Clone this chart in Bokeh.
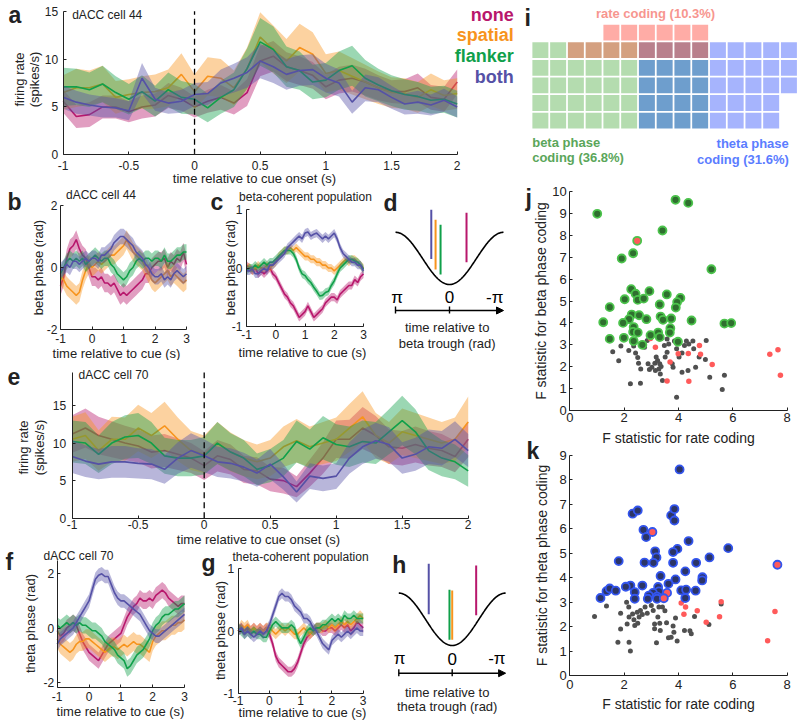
import numpy as np
from bokeh.plotting import figure
from bokeh.layouts import row, column
from bokeh.models import Range1d, FixedTicker, PrintfTickFormatter, Arrow, NormalHead
from bokeh.embed import file_html
from bokeh.resources import INLINE
from bokeh.core.properties import value

FONT = "Liberation Sans"
INK = "#222222"
C_NONE, C_SPAT, C_FLANK, C_BOTH = "#b8176c", "#f7941d", "#10a04a", "#5551a6"
COLORS = [C_NONE, C_SPAT, C_FLANK, C_BOTH]
CONDS = ["none", "spatial", "flanker", "both"]
CUE_ONSET = 0.0
LETTER = "23px"

# ---------------- data ----------------
t_fr = np.round(np.arange(-1.0, 2.0001, 0.1), 2)   # panels a, e (s)
t_ph = np.round(np.arange(-1.0, 3.0001, 0.1), 2)   # panels b, c, f, g (s)

# panel a: dACC cell 44 firing rate (spikes/s)
a_none = [5.6, 4.0, 4.2, 5.0, 5.0, 4.5, 5.0, 5.2, 6.2, 5.8, 5.0, 5.6, 6.0, 5.4, 6.5, 9.8, 10.3, 9.2, 8.8, 8.3, 7.1, 7.8, 8.0, 7.6, 7.0, 6.6, 6.6, 7.0, 6.0, 5.8, 7.6]
a_spat = [6.5, 7.0, 7.0, 7.4, 6.0, 6.3, 6.5, 6.6, 7.0, 8.4, 6.6, 8.2, 8.0, 7.0, 9.0, 12.3, 11.0, 9.8, 11.2, 10.5, 8.5, 8.8, 8.2, 7.6, 7.0, 6.5, 6.4, 6.0, 6.8, 6.2, 6.4]
a_flank = [7.1, 7.1, 6.8, 7.4, 6.5, 5.8, 6.6, 5.6, 6.8, 6.0, 5.8, 4.9, 6.0, 6.8, 9.0, 11.8, 11.0, 9.2, 8.8, 7.6, 7.8, 8.8, 9.3, 8.0, 7.3, 6.7, 6.3, 6.1, 5.7, 5.8, 5.3]
a_both = [6.0, 5.5, 5.2, 5.0, 4.9, 4.6, 8.0, 5.8, 5.4, 5.6, 6.3, 6.4, 7.5, 8.0, 8.6, 9.8, 9.2, 8.4, 8.8, 8.9, 8.0, 7.5, 5.5, 7.0, 6.8, 6.0, 5.3, 5.5, 5.2, 5.7, 5.0]
a_none_hw = [1.2, 1.2, 1.3, 1.2, 1.2, 1.1, 1.2, 1.2, 1.3, 1.2, 1.1, 1.2, 1.3, 1.2, 1.4, 1.6, 1.6, 1.5, 1.5, 1.4, 1.3, 1.4, 1.4, 1.4, 1.3, 1.2, 1.3, 1.5, 1.3, 1.3, 1.3]
a_spat_hw = [1.8, 2.0, 1.8, 1.9, 1.7, 1.6, 1.7, 1.8, 1.9, 2.2, 1.8, 2.0, 2.0, 1.8, 2.2, 2.6, 2.5, 2.3, 2.5, 2.3, 2.0, 2.0, 1.9, 1.8, 1.7, 1.6, 1.6, 1.6, 1.7, 1.6, 1.6]
a_flank_hw = [2.0, 1.9, 1.8, 1.9, 1.7, 1.6, 1.7, 1.6, 1.8, 1.7, 1.6, 1.5, 1.7, 1.8, 2.1, 2.5, 2.4, 2.1, 2.0, 1.8, 1.8, 2.0, 2.1, 1.9, 1.7, 1.6, 1.6, 1.5, 1.4, 1.4, 1.4]
a_both_hw = [1.2, 1.2, 1.1, 1.1, 1.0, 1.0, 1.6, 1.2, 1.1, 1.2, 1.2, 1.2, 1.4, 1.5, 1.6, 1.8, 1.7, 1.6, 1.6, 1.6, 1.5, 1.4, 1.2, 1.4, 1.3, 1.2, 1.1, 1.2, 1.1, 1.2, 1.1]

# panel e: dACC cell 70 firing rate (spikes/s)
e_none = [11.2, 12.0, 11.0, 10.5, 10.0, 9.6, 8.8, 9.0, 8.5, 8.0, 7.0, 8.3, 7.8, 6.5, 6.3, 5.2, 5.0, 4.2, 6.0, 8.0, 10.5, 10.5, 12.0, 11.0, 9.5, 9.3, 9.8, 9.3, 9.0, 8.2, 10.5]
e_spat = [10.5, 11.0, 9.0, 10.5, 10.5, 12.0, 11.0, 12.3, 10.5, 9.0, 8.5, 10.0, 8.8, 8.0, 7.5, 8.0, 9.5, 10.3, 9.5, 10.0, 10.5, 12.0, 13.5, 11.0, 10.0, 11.5, 11.0, 10.5, 10.0, 10.5, 12.8]
e_flank = [10.2, 10.0, 8.5, 10.0, 10.8, 11.0, 10.0, 8.3, 8.0, 8.0, 8.3, 10.0, 8.8, 8.0, 6.5, 7.0, 8.0, 10.2, 9.2, 10.7, 9.8, 9.5, 10.2, 10.0, 11.5, 13.0, 11.5, 9.0, 8.0, 7.5, 6.3]
e_both = [8.2, 7.6, 7.2, 7.5, 7.5, 7.3, 7.2, 6.5, 8.0, 9.0, 8.3, 7.5, 7.3, 6.8, 6.0, 7.2, 5.5, 3.5, 5.6, 5.3, 5.6, 8.0, 9.5, 10.3, 9.8, 8.0, 8.5, 9.5, 9.3, 10.5, 9.0]
e_none_hw = [2.5, 2.6, 2.5, 2.4, 2.3, 2.2, 2.2, 2.2, 2.1, 2.0, 1.9, 2.1, 2.0, 1.8, 1.8, 1.6, 1.7, 1.4, 1.8, 2.1, 2.5, 2.6, 2.8, 2.6, 2.3, 2.3, 2.4, 2.3, 2.2, 2.1, 2.4]
e_spat_hw = [3.0, 3.1, 2.7, 3.0, 2.9, 3.1, 3.0, 3.2, 2.9, 2.6, 2.5, 2.8, 2.6, 2.4, 2.3, 2.4, 2.7, 2.9, 2.7, 2.8, 2.9, 3.2, 3.4, 3.0, 2.8, 3.1, 3.0, 2.9, 2.8, 2.9, 3.4]
e_flank_hw = [2.8, 2.8, 2.5, 2.8, 2.9, 3.0, 2.8, 2.4, 2.4, 2.4, 2.5, 2.8, 2.5, 2.4, 2.1, 2.2, 2.4, 2.8, 2.6, 2.9, 2.7, 2.7, 2.8, 2.8, 3.0, 3.3, 3.0, 2.6, 2.4, 2.3, 2.1]
e_both_hw = [2.2, 2.1, 2.0, 2.1, 2.1, 2.0, 2.0, 1.9, 2.1, 2.3, 2.2, 2.0, 2.0, 1.9, 1.8, 2.0, 1.7, 1.4, 1.7, 1.7, 1.7, 2.1, 2.3, 2.4, 2.3, 2.1, 2.2, 2.3, 2.3, 2.4, 2.2]

# panel b: dACC cell 44 beta phase (rad)
b_none = [-0.6, -0.3, 0.3, 0.6, 0.7, 0.9, 0.6, 0.4, 0.3, 0.0, -0.3, -0.3, -0.4, -0.3, -0.5, -0.5, -0.6, -0.5, -0.7, -0.9, -0.8, -0.9, -0.8, -0.7, -0.6, -0.5, -0.4, -0.2, -0.2, 0.0, 0.1, 0.2, 0.2, 0.3, 0.0, 0.2, 0.1, 0.3, 0.2, 0.5, 0.1]
b_spat = [-0.3, -0.4, -0.6, -0.7, -0.8, -0.9, -0.8, -0.4, -0.1, 0.1, 0.0, 0.1, 0.2, 0.1, 0.2, 0.3, 0.4, 0.4, 0.5, 0.6, 0.7, 0.9, 0.7, 0.5, 0.4, 0.3, 0.2, 0.0, -0.2, -0.4, -0.5, -0.4, -0.3, -0.2, -0.1, -0.3, -0.2, -0.3, -0.4, -0.5, -0.4]
b_flank = [-0.2, 0.0, 0.2, 0.3, 0.2, 0.3, 0.2, 0.3, 0.1, 0.2, 0.3, 0.4, 0.3, 0.2, 0.3, 0.3, 0.1, 0.0, -0.2, -0.3, -0.4, -0.3, -0.1, 0.0, 0.2, 0.3, 0.2, 0.3, 0.3, 0.2, 0.3, 0.3, 0.2, 0.4, 0.2, 0.2, 0.3, 0.4, 0.4, 0.5, 0.5]
b_both = [-0.1, 0.0, 0.1, 0.0, 0.2, 0.2, 0.1, 0.2, 0.3, 0.2, 0.3, 0.3, 0.2, 0.4, 0.4, 0.5, 0.6, 0.8, 0.9, 1.0, 1.0, 0.9, 0.8, 0.7, 0.5, 0.4, 0.3, 0.1, 0.0, -0.2, -0.3, -0.3, -0.2, -0.4, -0.3, -0.4, -0.2, -0.1, -0.2, -0.3, -0.2]
b_hw = [0.3, 0.3, 0.25, 0.25]

# panel c: beta-coherent population beta phase (rad)
c_none = [0.05, 0.0, -0.05, 0.0, -0.1, -0.05, -0.1, -0.05, 0.0, -0.1, -0.15, -0.25, -0.35, -0.45, -0.5, -0.6, -0.65, -0.75, -0.85, -0.8, -0.75, -0.65, -0.75, -0.85, -0.8, -0.75, -0.7, -0.6, -0.55, -0.5, -0.5, -0.55, -0.45, -0.4, -0.35, -0.3, -0.3, -0.2, -0.25, -0.15, -0.1]
c_spat = [0.0, 0.02, -0.05, 0.0, 0.05, 0.0, 0.0, 0.05, 0.0, 0.05, 0.1, 0.2, 0.25, 0.3, 0.3, 0.35, 0.3, 0.35, 0.3, 0.25, 0.2, 0.2, 0.15, 0.15, 0.1, 0.1, 0.05, 0.05, 0.0, 0.0, -0.05, 0.0, 0.05, 0.1, 0.15, 0.1, 0.15, 0.15, 0.1, 0.05, 0.0]
c_flank = [-0.05, 0.0, 0.0, 0.05, 0.0, 0.05, 0.1, 0.05, 0.1, 0.1, 0.15, 0.2, 0.25, 0.3, 0.3, 0.3, 0.25, 0.15, 0.0, -0.1, -0.13, -0.2, -0.25, -0.33, -0.4, -0.48, -0.47, -0.42, -0.4, -0.3, -0.22, -0.1, 0.0, 0.05, 0.1, 0.15, 0.15, 0.12, 0.1, 0.05, -0.02]
c_both = [-0.05, -0.05, -0.02, -0.1, -0.1, -0.05, 0.0, -0.05, 0.05, 0.05, 0.1, 0.15, 0.2, 0.25, 0.35, 0.4, 0.45, 0.5, 0.55, 0.5, 0.6, 0.62, 0.55, 0.58, 0.6, 0.55, 0.5, 0.55, 0.5, 0.55, 0.6, 0.5, 0.35, 0.25, 0.2, 0.15, 0.1, 0.1, 0.05, 0.05, -0.05]
c_hw = [0.07, 0.07, 0.07, 0.07]

# panel f: dACC cell 70 theta phase (rad)
f_none = [-0.1, -0.3, -0.2, 0.0, 0.1, 0.2, 0.1, -0.2, -0.5, -0.7, -0.9, -1.0, -1.1, -1.2, -1.0, -0.8, -0.6, -0.5, -0.4, -0.3, -0.2, 0.1, 0.4, 0.6, 0.8, 0.9, 1.1, 1.0, 1.0, 1.1, 1.0, 1.2, 1.3, 1.4, 1.3, 1.1, 1.0, 0.9, 0.8, 0.9, 0.9]
f_spat = [-0.4, -0.6, -0.7, -0.8, -0.9, -0.8, -0.6, -0.5, -0.5, -0.4, -0.4, -0.5, -0.6, -0.7, -0.8, -0.9, -0.8, -0.7, -0.7, -0.8, -0.7, -0.6, -0.7, -0.6, -0.5, -0.6, -0.6, -0.7, -0.8, -0.9, -0.5, -0.3, -0.2, -0.1, -0.1, 0.0, 0.1, 0.1, 0.2, 0.2, 0.3]
f_flank = [0.1, 0.0, 0.1, 0.2, 0.1, 0.2, 0.1, 0.2, 0.1, 0.1, 0.0, -0.1, -0.1, -0.2, -0.3, -0.5, -0.6, -0.7, -0.8, -1.0, -1.1, -1.2, -1.5, -1.4, -1.2, -1.0, -0.9, -0.8, -0.6, -0.4, -0.1, 0.1, 0.2, 0.4, 0.5, 0.5, 0.6, 0.7, 0.7, 0.8, 0.9]
f_both = [-0.6, -0.4, -0.3, -0.2, -0.1, 0.0, 0.2, 0.4, 0.6, 0.8, 1.0, 1.4, 1.8, 1.95, 2.0, 1.9, 1.9, 1.6, 1.3, 1.1, 1.0, 1.0, 0.9, 0.8, 0.7, 0.6, 0.5, 0.3, 0.1, -0.1, -0.2, -0.3, -0.3, -0.2, -0.1, 0.0, 0.1, 0.2, 0.3, 0.4, 0.5]
f_hw = [0.3, 0.35, 0.3, 0.25]

# panel g: theta-coherent population theta phase (rad)
g_none = [0.0, 0.05, 0.0, 0.05, 0.0, 0.05, 0.0, 0.05, 0.0, 0.05, -0.05, -0.2, -0.4, -0.5, -0.55, -0.6, -0.65, -0.65, -0.6, -0.5, -0.35, -0.2, -0.1, -0.05, 0.0, 0.05, 0.05, 0.0, 0.0, 0.05, 0.05, 0.0, 0.05, 0.1, 0.05, 0.1, 0.0, 0.05, 0.15, 0.1, 0.05]
g_spat = [0.0, 0.1, 0.05, 0.1, 0.0, 0.05, 0.0, 0.05, 0.0, 0.05, 0.05, 0.0, -0.05, 0.0, 0.05, 0.0, 0.05, 0.0, -0.05, -0.05, 0.0, 0.05, 0.0, -0.05, 0.0, 0.05, 0.05, 0.05, 0.1, 0.05, 0.1, 0.05, 0.1, 0.15, 0.1, 0.15, 0.1, 0.15, 0.2, 0.25, 0.2]
g_flank = [0.05, 0.0, -0.05, 0.0, -0.05, 0.0, -0.05, -0.05, -0.1, -0.1, 0.0, 0.1, 0.15, 0.1, 0.05, 0.05, 0.05, 0.1, 0.05, -0.1, -0.2, -0.1, 0.0, 0.05, 0.0, 0.05, 0.05, 0.1, 0.1, 0.15, 0.2, 0.15, 0.2, 0.15, 0.25, 0.2, 0.2, 0.25, 0.2, 0.2, 0.2]
g_both = [0.0, 0.05, -0.05, 0.0, -0.05, -0.1, -0.05, 0.0, -0.05, 0.0, 0.1, 0.25, 0.4, 0.55, 0.6, 0.55, 0.55, 0.5, 0.4, 0.35, 0.3, 0.2, 0.2, 0.15, 0.05, 0.0, -0.1, -0.2, -0.25, -0.3, -0.15, -0.1, -0.05, -0.1, -0.05, 0.0, -0.05, 0.0, 0.05, 0.0, 0.0]
g_hw = [0.08, 0.08, 0.08, 0.08]

# panels d, h: preferred phase markers (rad) and their vertical extent (units of the cosine)
d_phase = [-0.99, 0.81, 0.52, 1.06]
d_top = [1.75, 1.48, 1.29, 1.86]
d_bot = [-0.15, -0.43, -0.62, -0.02]
h_phase = [-1.41, 0.0, 0.16, 1.38]
h_top = [2.05, 1.10, 1.13, 2.12]
h_bot = [0.15, -0.78, -0.78, 0.19]

# panel i: waffle of coding cells (R rate, B beta, T theta, X beta+rate, Y all three, Z beta+theta)
waffle_map = [
    "....RRRRRR.....",
    "BBXXXXYYYYTTTTT",
    "BBBBBBZZZZTTTTT",
    "BBBBBBZZZZTTTTT",
    "BBBBBBZZZZTTTT.",
    "BBBBBBZZZZTTTT.",
]
waffle_colors = {"R": "#ffaca6", "B": "#b4dcaf", "X": "#d4a080", "Y": "#b9808c",
                 "Z": "#6e9ecd", "T": "#a6b4fd"}

# panel j: F statistics (rate vs beta phase)
j_grey = [(1.58, 2.68), (1.88, 2.94), (1.80, 2.27), (2.23, 1.22), (2.60, 1.25), (2.17, 2.74), (2.35, 2.94), (2.42, 2.62), (2.50, 2.42), (2.53, 2.16), (2.61, 1.90), (2.75, 2.89), (2.85, 3.20), (2.88, 2.13), (2.93, 1.87), (3.02, 1.98), (3.13, 2.16), (3.18, 2.44), (3.23, 2.28), (3.31, 2.13), (3.36, 2.01), (3.15, 1.83), (3.33, 1.67), (3.41, 1.37), (3.48, 2.97), (3.58, 2.66), (3.64, 3.04), (3.77, 2.13), (3.80, 1.98), (3.85, 3.17), (3.93, 2.82), (4.02, 2.44), (4.13, 2.62), (4.22, 2.97), (4.29, 3.17), (4.38, 3.04), (4.53, 3.17), (4.56, 2.82), (4.13, 1.75), (4.35, 1.83), (4.63, 1.98), (4.76, 2.44), (4.99, 2.33), (5.02, 3.20), (5.15, 1.52), (5.69, 1.61), (5.61, 0.96), (3.93, 0.61), (3.28, 1.90), (3.51, 2.44), (3.58, 3.27)]
j_rate = [(3.15, 2.89), (4.77, 2.97), (3.99, 2.59), (4.36, 2.60), (4.81, 2.57), (3.69, 2.21), (5.24, 2.10), (3.58, 1.35), (4.38, 1.34), (7.36, 2.57), (7.66, 2.77), (7.75, 1.61), (2.97, 3.29)]
j_beta = [(1.01, 8.98), (3.89, 9.62), (4.36, 9.48), (3.41, 8.22), (2.33, 7.18), (1.91, 6.94), (5.21, 6.45), (2.26, 5.54), (2.93, 5.45), (2.42, 5.33), (3.57, 5.30), (2.02, 5.08), (2.50, 5.05), (2.72, 5.11), (4.07, 5.14), (3.31, 4.84), (1.47, 4.72), (3.95, 4.95), (3.90, 4.70), (2.28, 4.38), (2.55, 4.35), (3.34, 4.29), (2.18, 4.17), (2.82, 4.17), (3.43, 4.14), (3.73, 4.20), (1.23, 4.03), (1.96, 4.00), (4.48, 4.11), (5.69, 3.97), (5.94, 3.99), (2.35, 3.81), (3.70, 3.76), (2.33, 3.59), (2.50, 3.56), (3.25, 3.56), (3.68, 3.56), (1.47, 3.27), (1.99, 3.32), (2.97, 3.44), (3.31, 3.35), (2.35, 3.17), (3.98, 3.14), (2.67, 3.00)]
j_beta_rate = [(2.48, 7.75)]

# panel k: F statistics (rate vs theta phase)
k_grey = [(0.91, 2.41), (1.35, 2.84), (1.87, 2.55), (1.87, 1.90), (1.77, 1.36), (2.18, 1.36), (2.23, 1.00), (2.09, 3.00), (2.17, 2.80), (2.18, 2.39), (2.11, 2.11), (2.31, 2.52), (2.36, 2.28), (2.39, 2.05), (2.48, 2.59), (2.55, 2.39), (2.50, 2.14), (2.60, 2.66), (2.67, 2.50), (2.77, 2.80), (2.85, 2.55), (3.00, 2.86), (3.07, 2.66), (3.12, 2.11), (3.12, 1.91), (3.19, 1.34), (3.24, 2.39), (3.28, 2.80), (3.31, 2.14), (3.33, 1.84), (3.41, 2.80), (3.50, 2.65), (3.56, 2.16), (3.63, 1.54), (3.73, 1.56), (3.83, 1.77), (3.89, 2.35), (3.95, 1.41), (3.80, 2.02), (4.22, 1.84), (4.42, 1.83), (4.47, 1.71), (4.59, 2.41), (5.12, 2.09), (5.57, 2.93), (3.30, 3.14)]
k_rate = [(4.10, 2.97), (4.26, 3.10), (4.26, 2.80), (4.20, 2.51), (4.69, 2.65), (5.02, 2.18), (5.51, 2.40), (5.57, 3.02), (7.55, 2.62), (7.28, 1.42)]
k_theta = [(4.04, 8.43), (2.31, 6.62), (2.50, 6.75), (3.73, 6.55), (3.85, 6.81), (3.85, 6.34), (2.71, 5.96), (2.81, 5.66), (3.14, 5.08), (3.96, 5.18), (4.37, 5.50), (5.83, 5.21), (3.80, 5.05), (3.19, 4.83), (5.14, 4.83), (1.80, 4.68), (2.75, 4.62), (3.08, 4.61), (3.80, 4.61), (4.65, 4.61), (4.25, 4.26), (3.34, 4.07), (4.88, 4.02), (4.87, 3.89), (3.89, 3.93), (2.23, 3.68), (2.06, 3.63), (2.67, 3.68), (3.63, 3.75), (3.25, 3.62), (4.10, 3.48), (4.28, 3.51), (4.63, 3.47), (1.35, 3.45), (1.47, 3.56), (1.69, 3.47), (3.28, 3.44), (2.39, 3.41), (3.06, 3.38), (2.91, 3.27), (3.21, 3.23), (1.13, 3.17), (2.39, 3.14), (2.87, 3.14), (3.21, 3.14), (4.25, 3.17)]
k_theta_rate = [(3.04, 5.87), (7.64, 4.53), (3.58, 3.38), (3.46, 3.16)]


# ---------------- helpers ----------------
class Panel:
    """A figure whose frame is its whole canvas; page pixel positions map to data."""

    def __init__(self, box, xmap, ymap, axes=True):
        L, T, R, B = box
        (xa, pxa), (xb, pxb) = xmap
        (ya, pya), (yb, pyb) = ymap
        kx = (xb - xa) / (pxb - pxa)
        ky = (yb - ya) / (pyb - pya)
        self.fx = lambda X: xa + (X - pxa) * kx
        self.fy = lambda Y: ya + (Y - pya) * ky
        kw = {} if axes else dict(x_axis_type=None, y_axis_type=None)
        self.p = figure(width=R - L, height=B - T,
                        x_range=Range1d(self.fx(L), self.fx(R)),
                        y_range=Range1d(self.fy(B), self.fy(T)),
                        output_backend="svg", toolbar_location=None,
                        min_border=0, min_border_left=0, min_border_right=0,
                        min_border_top=0, min_border_bottom=0, **kw)
        self.p.grid.visible = False
        self.p.outline_line_color = None
        self.p.background_fill_color = "white"

    def axes(self, xbounds, ybounds, xticks, yticks, fs="12px", xs=4, ys=4):
        xa, ya = self.p.xaxis[0], self.p.yaxis[0]
        xa.fixed_location = ybounds[0]
        ya.fixed_location = xbounds[0]
        xa.bounds = tuple(xbounds)
        ya.bounds = tuple(ybounds)
        for ax, ticks, s in ((xa, xticks, xs), (ya, yticks, ys)):
            ax.ticker = FixedTicker(ticks=ticks)
            ax.formatter = PrintfTickFormatter(format="%g")
            ax.axis_line_color = INK
            ax.axis_line_width = 1
            ax.major_tick_line_color = INK
            ax.major_tick_in = 3
            ax.major_tick_out = 0
            ax.minor_tick_line_color = None
            ax.major_label_text_font = FONT
            ax.major_label_text_font_size = fs
            ax.major_label_text_color = INK
            ax.major_label_standoff = s

    def text(self, X, Y, s, size="12px", color=INK, bold=False, align="left", angle=0.0):
        self.p.text(x=[self.fx(X)], y=[self.fy(Y)], text=[s], angle=angle,
                    text_align=align, text_baseline="middle", text_font=value(FONT),
                    text_font_size=size, text_font_style="bold" if bold else "normal",
                    text_color=color)


def draw_traces(p, t, means, hws, alpha=0.42, lw=1.6):
    for m, hw, c in zip(means, hws, COLORS):
        m = np.asarray(m, dtype=float)
        hw = np.asarray(hw, dtype=float) if np.ndim(hw) else np.full(len(m), hw)
        p.varea(x=t, y1=m - hw, y2=m + hw, fill_color=c, fill_alpha=alpha)
        p.line(t, m, line_color=c, line_width=lw)


def cue_line(p, y0, y1):
    p.segment(x0=[CUE_ONSET], y0=[y0], x1=[CUE_ONSET], y1=[y1], line_color="black",
              line_width=1.3, line_dash="6 4")


ROT = np.pi / 2

# ---------------- panel a ----------------
A = Panel((0, 0, 520, 187), ((-1, 62.7), (2, 456.7)), ((0, 154.3), (15, 10.7)))
A.axes((-1, 2), (0, 15), [-1, -0.5, 0, 0.5, 1, 1.5, 2], [0, 5, 10, 15], xs=6, ys=5)
draw_traces(A.p, t_fr, [a_none, a_spat, a_flank, a_both],
            [a_none_hw, a_spat_hw, a_flank_hw, a_both_hw])
cue_line(A.p, 0, 15)
A.text(71.7, 14, "dACC cell 44")
A.text(8, 14, "a", size=LETTER, bold=True)
for name, c, yy in zip(CONDS, COLORS, [14, 34.5, 55, 76]):
    A.text(513.3, yy, name, size="18px", color=c, bold=True, align="right")
A.text(254, 177.5, "time relative to cue onset (s)", size="13px", align="center")
A.text(19, 79, "firing rate", size="13px", align="center", angle=ROT)
A.text(34, 79, "(spikes/s)", size="13px", align="center", angle=ROT)

# ---------------- panel b ----------------
B = Panel((0, 187, 205, 360), ((-1, 60), (3, 186)), ((-2, 329), (2, 205)))
B.axes((-1, 3), (-2, 2), [-1, 0, 1, 2, 3], [-2, 0, 2], xs=4, ys=3)
draw_traces(B.p, t_ph, [b_none, b_spat, b_flank, b_both], b_hw)
B.text(100.5, 194.5, "dACC cell 44", align="center")
B.text(7, 201, "b", size=LETTER, bold=True)
B.text(116, 352.5, "time relative to cue (s)", size="13px", align="center")
B.text(37.5, 267, "beta phase (rad)", size="13px", align="center", angle=ROT)

# ---------------- panel c ----------------
C = Panel((205, 187, 380, 360), ((-1, 246), (3, 363)), ((-1, 325.7), (1, 209.3)))
C.axes((-1, 3), (-1, 1), [-1, 0, 1, 2, 3], [-1, 0, 1], xs=4, ys=4)
draw_traces(C.p, t_ph, [c_none, c_spat, c_flank, c_both], c_hw)
C.text(305, 196.5, "beta-coherent population", align="center")
C.text(210, 201, "c", size=LETTER, bold=True)
C.text(302, 352, "time relative to cue (s)", size="13px", align="center")
C.text(230, 267, "beta phase (rad)", size="13px", align="center", angle=ROT)


# ---------------- panels d, h (phase schematics) ----------------
def schematic(P, phases, tops, bots, axis_py, lab_py, tick0_px, tickpi_px, text_px,
              text_py, word, letter, letter_pxy):
    p = P.p
    xs = np.linspace(np.pi, -np.pi, 200)
    p.line(xs, -np.cos(xs), line_color="black", line_width=1.6)
    p.segment(x0=phases, y0=bots, x1=phases, y1=tops, line_color=COLORS, line_width=2)
    ay = P.fy(axis_py)
    p.add_layout(Arrow(end=NormalHead(size=7, fill_color="black", line_color="black"),
                       x_start=np.pi, y_start=ay, x_end=-np.pi, y_end=ay,
                       line_width=1.4, line_color="black"))
    p.segment(x0=[np.pi, 0], y0=[P.fy(axis_py - 4)] * 2, x1=[np.pi, 0],
              y1=[P.fy(axis_py + 3)] * 2, line_color="black", line_width=1.4)
    P.text(tickpi_px, lab_py, "π", size="17px", color="black", align="center")
    P.text(tick0_px, lab_py, "0", size="17px", color="black", align="center")
    p.text(x=[-np.pi], y=[P.fy(lab_py)], text=["-π"], text_align="right",
           text_baseline="middle", text_font=value(FONT), text_font_size="17px",
           text_color="black")
    P.text(text_px, text_py[0], "time relative to", size="13px", align="center")
    P.text(text_px, text_py[1], word + " trough (rad)", size="13px", align="center")
    P.text(letter_pxy[0], letter_pxy[1], letter, size=LETTER, bold=True)


D = Panel((380, 187, 520, 360), ((0, 449), (np.pi, 395)), ((0, 257.9), (1, 231.8)), axes=False)
schematic(D, d_phase, d_top, d_bot, 310, 296.7, 449, 396.7, 446.7, (326.7, 343.3),
          "beta", "d", (383, 202.5))

# ---------------- panel e ----------------
E = Panel((0, 360, 520, 547), ((-1, 71.7), (2, 467.7)), ((0, 517.7), (15, 405)))
E_TOP = E.fy(372)
E.axes((-1, 2), (0, E_TOP), [-1, -0.5, 0, 0.5, 1, 1.5, 2], [0, 5, 10, 15], xs=2, ys=6)
draw_traces(E.p, t_fr, [e_none, e_spat, e_flank, e_both],
            [e_none_hw, e_spat_hw, e_flank_hw, e_both_hw])
cue_line(E.p, 0, E_TOP)
E.text(78, 374.5, "dACC cell 70")
E.text(7, 376, "e", size=LETTER, bold=True)
E.text(258, 539, "time relative to cue onset (s)", size="13px", align="center")
E.text(23, 447, "firing rate", size="13px", align="center", angle=ROT)
E.text(39, 447, "(spikes/s)", size="13px", align="center", angle=ROT)

# ---------------- panel f ----------------
F = Panel((0, 547, 200, 723), ((-1, 56.7), (3, 184)), ((-2, 681.7), (2, 573.3)))
F_LO, F_HI = F.fy(686.7), F.fy(560)
F.axes((-1, 3), (F_LO, F_HI), [-1, 0, 1, 2, 3], [-2, 0, 2], xs=5, ys=3)
draw_traces(F.p, t_ph, [f_none, f_spat, f_flank, f_both], f_hw)
F.text(43, 555, "dACC cell 70")
F.text(5, 561, "f", size=LETTER, bold=True)
F.text(120, 711, "time relative to cue (s)", size="13px", align="center")
F.text(30, 623, "theta phase (rad)", size="13px", align="center", angle=ROT)

# ---------------- panel g ----------------
G = Panel((200, 547, 380, 723), ((-1, 237.7), (3, 362.7)), ((-1, 693.3), (1, 567.7)))
G.axes((-1, 3), (-1, 1), [-1, 0, 1, 2, 3], [-1, 0, 1], xs=2, ys=4)
draw_traces(G.p, t_ph, [g_none, g_spat, g_flank, g_both], g_hw)
G.text(300, 556, "theta-coherent population", align="center")
G.text(201, 562, "g", size=LETTER, bold=True)
G.text(302, 712, "time relative to cue (s)", size="13px", align="center")
G.text(220, 630, "theta phase (rad)", size="13px", align="center", angle=ROT)

H = Panel((380, 547, 520, 723), ((0, 451.7), (np.pi, 398.3)), ((0, 618.8), (1, 592.6)), axes=False)
schematic(H, h_phase, h_top, h_bot, 672.7, 658, 451.7, 399, 446.7, (691.7, 706),
          "theta", "h", (391.7, 564))

# ---------------- panel i ----------------
I = Panel((520, 0, 800, 172), ((0, 531), (15, 797.3)), ((0, 128.9), (6, 23.3)), axes=False)
wx, wy, wc = [], [], []
for r, line in enumerate(waffle_map):
    for cidx, code in enumerate(line):
        if code in waffle_colors:
            wx.append(cidx + 0.5)
            wy.append(len(waffle_map) - 1 - r + 0.5)
            wc.append(waffle_colors[code])
I.p.rect(x=wx, y=wy, width=0.9, height=0.9, fill_color=wc, line_color=None)
I.text(655, 13.3, "rate coding (10.3%)", size="13px", color="#f7968f", bold=True, align="center")
I.text(531.7, 141.7, "beta phase", size="13px", color="#5aa65a", bold=True)
I.text(531.7, 157, "coding (36.8%)", size="13px", color="#5aa65a", bold=True)
I.text(788.3, 143.3, "theta phase", size="13px", color="#5b7dff", bold=True, align="right")
I.text(788.3, 159.3, "coding (31.6%)", size="13px", color="#5b7dff", bold=True, align="right")
I.text(524, 17, "i", size=LETTER, bold=True)


def scatter_points(p, grey, red, ring, ring_red, ring_color, ring_fill):
    gx, gy = zip(*grey)
    p.scatter(gx, gy, size=5, fill_color="#505050", line_color=None)
    rx, ry = zip(*red)
    p.scatter(rx, ry, size=5.5, fill_color="#ff5a5a", line_color=None)
    sx, sy = zip(*ring)
    p.scatter(sx, sy, size=8, fill_color=ring_fill, line_color=ring_color, line_width=1.8)
    tx, ty = zip(*ring_red)
    p.scatter(tx, ty, size=8, fill_color="#ff5a5a", line_color=ring_color, line_width=1.8)


# ---------------- panel j ----------------
J = Panel((520, 172, 800, 428), ((0, 569.3), (8, 786.7)), ((0, 410), (10, 191)))
J.axes((0, 8), (0, 10), [0, 2, 4, 6, 8], list(range(0, 11)), fs="13px", xs=2, ys=3)
scatter_points(J.p, j_grey, j_rate, j_beta, j_beta_rate, "#4cc34c", "#2f6f2f")
J.text(525, 197, "j", size=LETTER, bold=True)
J.text(540, 300.5, "F statistic for beta phase coding", size="14px", align="center", angle=ROT)

# ---------------- panel k ----------------
K = Panel((520, 428, 800, 723), ((0, 569.3), (8, 786.7)), ((0, 675), (9, 455)))
K.axes((0, 8), (0, 9), [0, 2, 4, 6, 8], list(range(0, 10)), fs="13px", xs=4, ys=3)
scatter_points(K.p, k_grey, k_rate, k_theta, k_theta_rate, "#3355ee", "#2c3566")
# x-axis title of panel j sits just above panel k's canvas area
K.text(678, 437, "F statistic for rate coding", size="14px", align="center")
K.text(526, 450, "k", size=LETTER, bold=True)
K.text(678, 703.3, "F statistic for rate coding", size="14px", align="center")
K.text(541.7, 565, "F statistic for theta phase coding", size="14px", align="center", angle=ROT)

# ---------------- layout ----------------
left = column(A.p, row(B.p, C.p, D.p), E.p, row(F.p, G.p, H.p))
right = column(I.p, J.p, K.p)
page = row(left, right)

open("out.html", "w").write(file_html(page, INLINE))
